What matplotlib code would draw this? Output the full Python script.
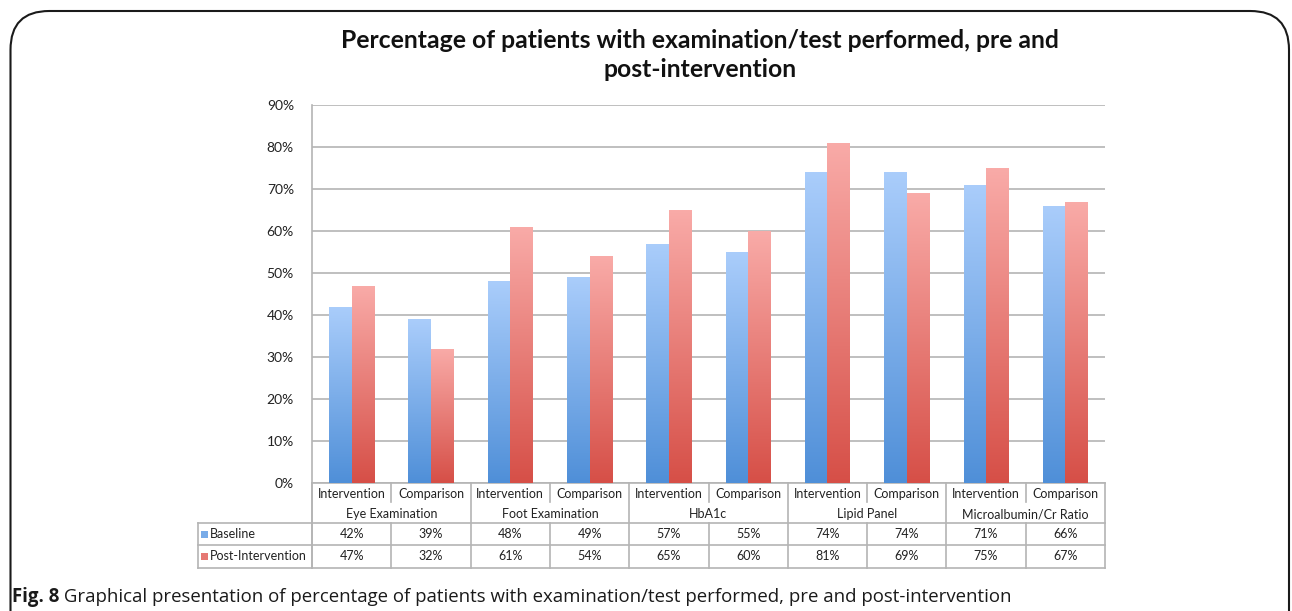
import numpy as np
import matplotlib
matplotlib.use("Agg")
import matplotlib.pyplot as plt
from matplotlib.patches import FancyBboxPatch, Rectangle
from matplotlib.colors import LinearSegmentedColormap
from matplotlib.ticker import MultipleLocator, PercentFormatter

# ---------------- data ----------------
groups = ["Eye Examination", "Foot Examination", "HbA1c", "Lipid Panel", "Microalbumin/Cr Ratio"]
arms = ["Intervention", "Comparison"]
baseline = [42, 39, 48, 49, 57, 55, 74, 74, 71, 66]
post_intervention = [47, 32, 61, 54, 65, 60, 81, 69, 75, 67]
series_names = ["Baseline", "Post-Intervention"]
title = "Percentage of patients with examination/test performed, pre and\npost-intervention"
caption_bold = "Fig. 8"
caption_rest = " Graphical presentation of percentage of patients with examination/test performed, pre and post-intervention"

W, H = 1292, 611
fig = plt.figure(figsize=(W / 100, H / 100), dpi=100)
FONT = "Lato"

# frame
frame = FancyBboxPatch((10.5 / W, -0.1), (1289 - 10.5) / W, (H - 11) / H + 0.1,
                       boxstyle="round,pad=0,rounding_size=0.03", transform=fig.transFigure,
                       fill=False, edgecolor="#1a1a1a", linewidth=1.5, mutation_aspect=W / H)
fig.patches.append(frame)

x0, x1, ytop, ybot = 312, 1105, 105, 483
ax = fig.add_axes([x0 / W, 1 - ybot / H, (x1 - x0) / W, (ybot - ytop) / H])
n = len(baseline)
x = np.arange(n)
bw = 0.284
ax.set_xlim(-0.5, n - 0.5)
ax.set_ylim(0, 90)
ax.yaxis.set_major_locator(MultipleLocator(10))
ax.yaxis.set_major_formatter(PercentFormatter(decimals=0))
ax.tick_params(axis="y", length=0, pad=13, labelsize=10, labelcolor="#222222")
ax.tick_params(axis="x", length=0, labelbottom=False)
for lab in ax.get_yticklabels():
    lab.set_fontfamily(FONT)
ax.grid(axis="y", color="#b4b4b4", linewidth=1.2)
ax.set_axisbelow(True)
for s in ["top", "right", "bottom"]:
    ax.spines[s].set_visible(False)
ax.spines["left"].set_color("#b4b4b4")
ax.spines["left"].set_linewidth(1.2)

blue_cmap = LinearSegmentedColormap.from_list("b", ["#4f8fd8", "#aacdfb"])
red_cmap = LinearSegmentedColormap.from_list("r", ["#d64f47", "#f9aba8"])
grad = np.linspace(0, 1, 256).reshape(-1, 1)

def grad_bars(xs, vals, cmap):
    bars = ax.bar(xs, vals, width=bw, color="none", edgecolor="none", zorder=2)
    for b in bars:
        bx, by, bwid, bh = b.get_x(), b.get_y(), b.get_width(), b.get_height()
        im = ax.imshow(grad, cmap=cmap, aspect="auto", origin="lower",
                       extent=[bx, bx + bwid, by, by + bh], zorder=2, interpolation="bilinear")
        im.set_clip_path(b)
    return bars

grad_bars(x - bw / 2, baseline, blue_cmap)
grad_bars(x + bw / 2, post_intervention, red_cmap)
ax.set_xlim(-0.5, n - 0.5)
ax.set_ylim(0, 90)

# ---------------- table under the chart ----------------
tr = ax.get_xaxis_transform()
def yf(py):
    return (ybot - py) / (ybot - ytop)

lc = "#b4b4b4"
lw = 1.2
def hline(xa, xb, py):
    ax.plot([xa, xb], [yf(py), yf(py)], transform=tr, color=lc, lw=lw, clip_on=False, zorder=1)
def vline(xx, pya, pyb):
    ax.plot([xx, xx], [yf(pya), yf(pyb)], transform=tr, color=lc, lw=lw, clip_on=False, zorder=1)

r_cat, r_grp, r_b, r_p, r_end = 483, 507, 523, 545, 568
px_per_unit = (x1 - x0) / n
leg_left = -0.5 - (x0 - 198) / px_per_unit
hline(-0.5, n - 0.5, r_cat)
hline(leg_left, n - 0.5, r_b)
hline(leg_left, n - 0.5, r_p)
hline(leg_left, n - 0.5, r_end)
vline(leg_left, r_b, r_end)
vline(-0.5, r_cat, r_end)
for g in range(len(groups) + 1):
    vline(2 * g - 0.5, r_cat, r_end)
for g in range(len(groups)):
    vline(2 * g + 0.5, r_cat, 502)
    vline(2 * g + 0.5, r_b, r_end)

fs = 9
tc = "#222222"
for i in range(n):
    ax.text(i, yf(494), arms[i % 2], transform=tr, ha="center", va="center",
            fontsize=fs, family=FONT, color=tc)
    ax.text(i, yf(534), f"{baseline[i]}%", transform=tr, ha="center", va="center",
            fontsize=fs, family=FONT, color=tc)
    ax.text(i, yf(556), f"{post_intervention[i]}%", transform=tr, ha="center", va="center",
            fontsize=fs, family=FONT, color=tc)
for g, name in enumerate(groups):
    ax.text(2 * g + 0.5, yf(514.5), name, transform=tr, ha="center", va="center",
            fontsize=fs, family=FONT, color=tc)

sq = 7 / px_per_unit
for (py, nm, cmap) in [(534, series_names[0], blue_cmap), (556, series_names[1], red_cmap)]:
    ax.add_patch(Rectangle((leg_left + 3 / px_per_unit, yf(py + 3.5)), sq, yf(py - 3.5) - yf(py + 3.5),
                           transform=tr, facecolor=cmap(0.45), edgecolor="none", clip_on=False))
    ax.text(leg_left + 12 / px_per_unit, yf(py), nm, transform=tr, ha="left", va="center",
            fontsize=fs, family=FONT, color=tc)

# ---------------- title and caption ----------------
fig.text(700 / W, 1 - 55 / H, title, ha="center", va="center", fontsize=17.8, fontweight="bold",
         family=FONT, color="#111111", linespacing=1.3)

cap_y = 1 - 597 / H
t1 = fig.text(12 / W, cap_y, caption_bold, ha="left", va="center", fontsize=13.4, fontweight="bold",
              family="Open Sans", color="#1a1a1a")
fig.canvas.draw()
bb = t1.get_window_extent()
fig.text(bb.x1 / W, cap_y, caption_rest, ha="left", va="center", fontsize=13.4,
         family="Open Sans", color="#1a1a1a")

fig.savefig("out.png", dpi=100)
